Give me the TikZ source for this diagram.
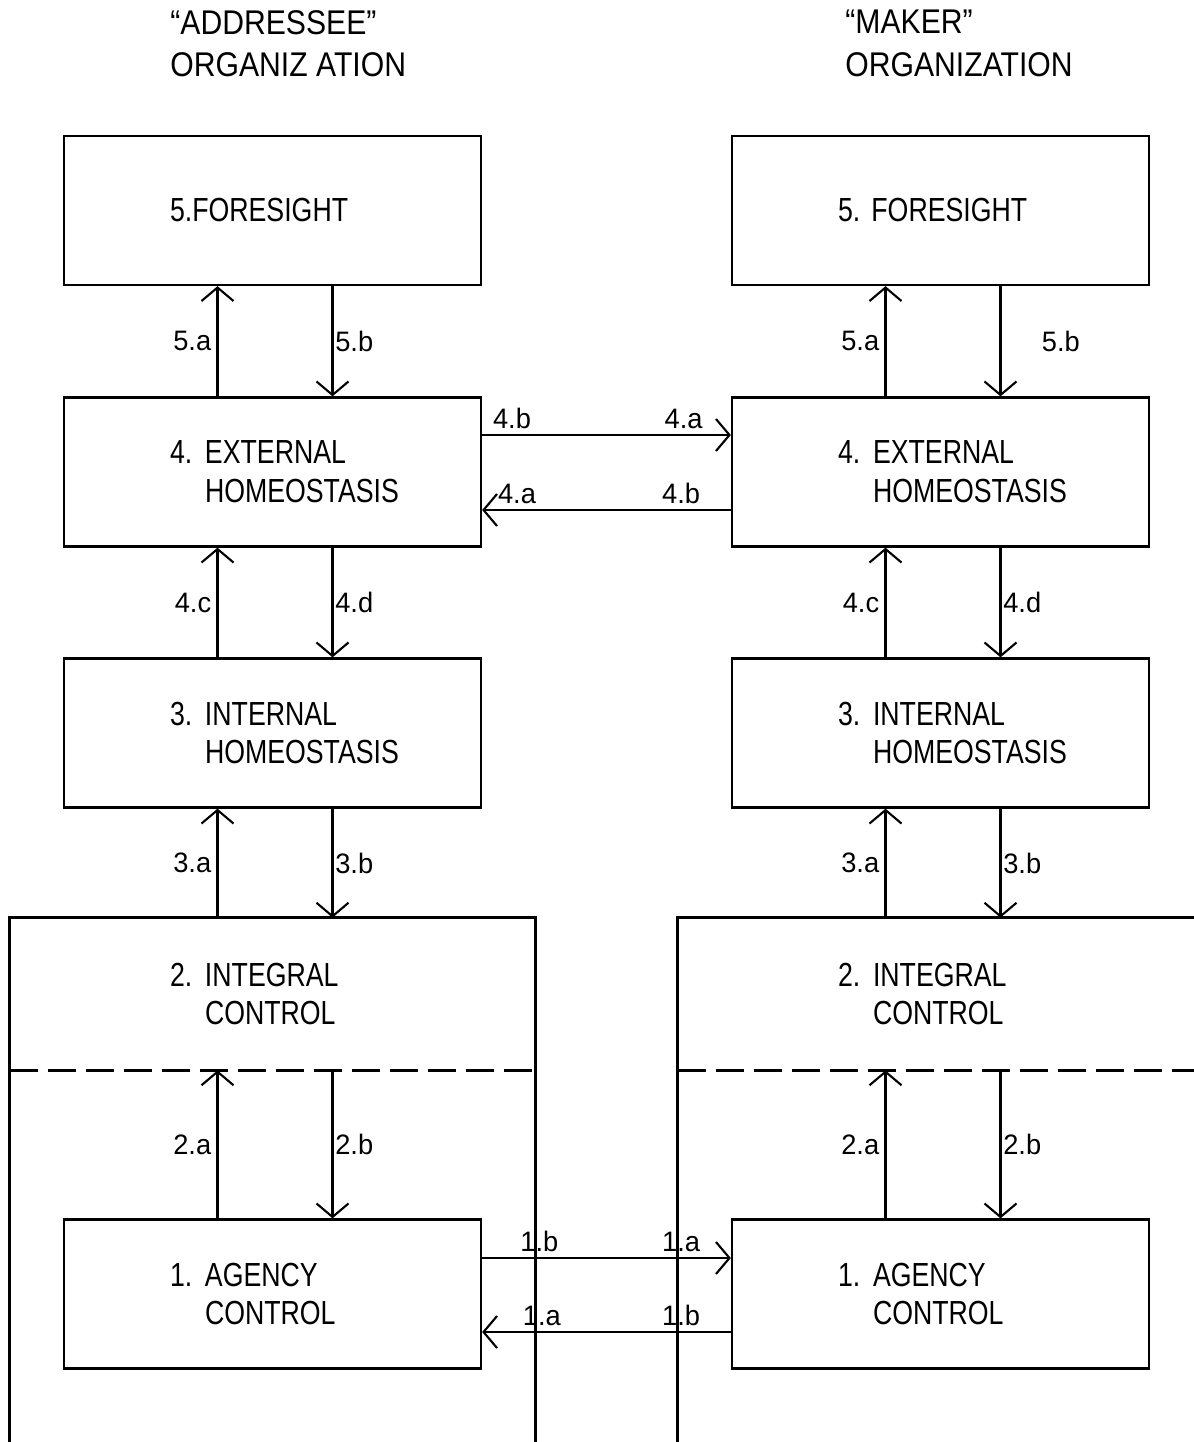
\documentclass[tikz,border=0pt]{standalone}
\usepackage{fontspec}
\setmainfont[FakeStretch=0.8]{Liberation Sans}
\newfontfamily\titlefont[FakeStretch=0.88]{Liberation Sans}
\newfontfamily\lblfont[FakeStretch=0.97]{Liberation Sans}
\usepackage{tikz}
\usetikzlibrary{arrows.meta, positioning}
\frenchspacing
\tikzstyle{level} = [rectangle, minimum width=8.34cm, minimum height=2.98cm, text width=4.1cm, align=left, draw=black, line width=1.3pt, inner sep=0pt, font=\fontsize{19}{22}\selectfont]
\tikzstyle{region} = [rectangle, minimum width=10.5cm, minimum height=3.04cm, text width=4.1cm, align=left, inner sep=0pt, font=\fontsize{19}{22}\selectfont]
\tikzstyle{frame} = [line width=1.6pt]
\tikzstyle{divider} = [line width=1.3pt, dash pattern=on 0.56cm off 0.2cm]
\tikzstyle{flow} = [line width=1.2pt, -{Straight Barb[length=2.7mm,width=6.4mm]}]
\tikzstyle{lbl} = [inner sep=3pt, font=\lblfont\fontsize{16}{18}\selectfont]
\tikzstyle{title} = [anchor=north west, align=left, inner sep=0pt, font=\titlefont\fontsize{19.5}{24}\selectfont]
\newcommand{\lvltext}[3]{\mbox{\makebox[0.7cm][l]{#1}#2}\\\mbox{\hspace*{0.7cm}#3}}

\begin{document}
\begin{tikzpicture}
            \useasboundingbox (0,0) rectangle (23.88,-28.84);
            \coordinate (pagecorner) at (23.88,-28.84);

            % Titles
            \node (titleL) [title] at (3.4,-0.2) {“ADDRESSEE”\\ORGANIZ ATION};
            \node (titleR) [title] at (16.9,-0.2) {“MAKER”\\ORGANIZATION};

            % Nodes, addressee
            \node (fore5L) [level] at (5.45,-4.21) {\mbox{5.FORESIGHT}};
            \node (ext4L) [level, below of=fore5L, node distance=5.23cm] {\lvltext{4.}{EXTERNAL}{HOMEOSTASIS}};
            \node (int3L) [level, below of=ext4L, node distance=5.22cm] {\lvltext{3.}{INTERNAL}{HOMEOSTASIS}};
            \node (int2L) [region, below of=int3L, node distance=5.22cm] {\lvltext{2.}{INTEGRAL}{CONTROL}};
            \node (agc1L) [level, below of=int2L, node distance=6.0cm] {\lvltext{1.}{AGENCY}{CONTROL}};

            % Nodes, maker
            \node (fore5R) [level, right of=fore5L, node distance=13.36cm] {\mbox{5. FORESIGHT}};
            \node (ext4R) [level, right of=ext4L, node distance=13.36cm] {\lvltext{4.}{EXTERNAL}{HOMEOSTASIS}};
            \node (int3R) [level, right of=int3L, node distance=13.36cm] {\lvltext{3.}{INTERNAL}{HOMEOSTASIS}};
            \node (int2R) [region, right of=int2L, node distance=13.36cm] {\lvltext{2.}{INTEGRAL}{CONTROL}};
            \node (agc1R) [level, right of=agc1L, node distance=13.36cm] {\lvltext{1.}{AGENCY}{CONTROL}};

            % Open frames of level 2
            \draw [frame] (int2L.north west |- pagecorner) -- (int2L.north west) -- (int2L.north east) -- (int2L.north east |- pagecorner);
            \draw [divider] (int2L.south west) -- (int2L.south east);
            \draw [frame] (int2R.north west |- pagecorner) -- (int2R.north west) -- (int2R.north west -| pagecorner);
            \draw [divider] (int2R.south west) -- (int2R.south west -| pagecorner);

            % Edges, addressee
            \draw [flow] ([xshift=-1.1cm]ext4L.north) -- node[lbl, left] {5.a} ([xshift=-1.1cm]fore5L.south);
            \draw [flow] ([xshift=1.2cm]fore5L.south) -- node[lbl, right, inner sep=1pt] {5.b} ([xshift=1.2cm]ext4L.north);
            \draw [flow] ([xshift=-1.1cm]int3L.north) -- node[lbl, left] {4.c} ([xshift=-1.1cm]ext4L.south);
            \draw [flow] ([xshift=1.2cm]ext4L.south) -- node[lbl, right, inner sep=1pt] {4.d} ([xshift=1.2cm]int3L.north);
            \draw [flow] ([xshift=-1.1cm]int2L.north) -- node[lbl, left] {3.a} ([xshift=-1.1cm]int3L.south);
            \draw [flow] ([xshift=1.2cm]int3L.south) -- node[lbl, right, inner sep=1pt] {3.b} ([xshift=1.2cm]int2L.north);
            \draw [flow] ([xshift=-1.1cm]agc1L.north) -- node[lbl, left] {2.a} ([xshift=-1.1cm]int2L.south);
            \draw [flow] ([xshift=1.2cm]int2L.south) -- node[lbl, right, inner sep=1pt] {2.b} ([xshift=1.2cm]agc1L.north);

            % Edges, maker
            \draw [flow] ([xshift=-1.1cm]ext4R.north) -- node[lbl, left] {5.a} ([xshift=-1.1cm]fore5R.south);
            \draw [flow] ([xshift=1.2cm]fore5R.south) -- node[lbl, right, xshift=0.7cm] {5.b} ([xshift=1.2cm]ext4R.north);
            \draw [flow] ([xshift=-1.1cm]int3R.north) -- node[lbl, left] {4.c} ([xshift=-1.1cm]ext4R.south);
            \draw [flow] ([xshift=1.2cm]ext4R.south) -- node[lbl, right, inner sep=1pt] {4.d} ([xshift=1.2cm]int3R.north);
            \draw [flow] ([xshift=-1.1cm]int2R.north) -- node[lbl, left] {3.a} ([xshift=-1.1cm]int3R.south);
            \draw [flow] ([xshift=1.2cm]int3R.south) -- node[lbl, right, inner sep=1pt] {3.b} ([xshift=1.2cm]int2R.north);
            \draw [flow] ([xshift=-1.1cm]agc1R.north) -- node[lbl, left] {2.a} ([xshift=-1.1cm]int2R.south);
            \draw [flow] ([xshift=1.2cm]int2R.south) -- node[lbl, right, inner sep=1pt] {2.b} ([xshift=1.2cm]agc1R.north);

            % Edges between organizations
            \draw [flow] ([yshift=0.74cm]ext4L.east) -- node[lbl, above, pos=0.12] {4.b} node[lbl, above, pos=0.81] {4.a} ([yshift=0.74cm]ext4R.west);
            \draw [flow] ([yshift=-0.76cm]ext4R.west) -- node[lbl, above, pos=0.2] {4.b} node[lbl, above, pos=0.86] {4.a} ([yshift=-0.76cm]ext4L.east);
            \draw [flow] ([yshift=0.72cm]agc1L.east) -- node[lbl, above, pos=0.23] {1.b} node[lbl, above, pos=0.8] {1.a} ([yshift=0.72cm]agc1R.west);
            \draw [flow] ([yshift=-0.76cm]agc1R.west) -- node[lbl, above, pos=0.2] {1.b} node[lbl, above, pos=0.76] {1.a} ([yshift=-0.76cm]agc1L.east);
        \end{tikzpicture}
\end{document}
